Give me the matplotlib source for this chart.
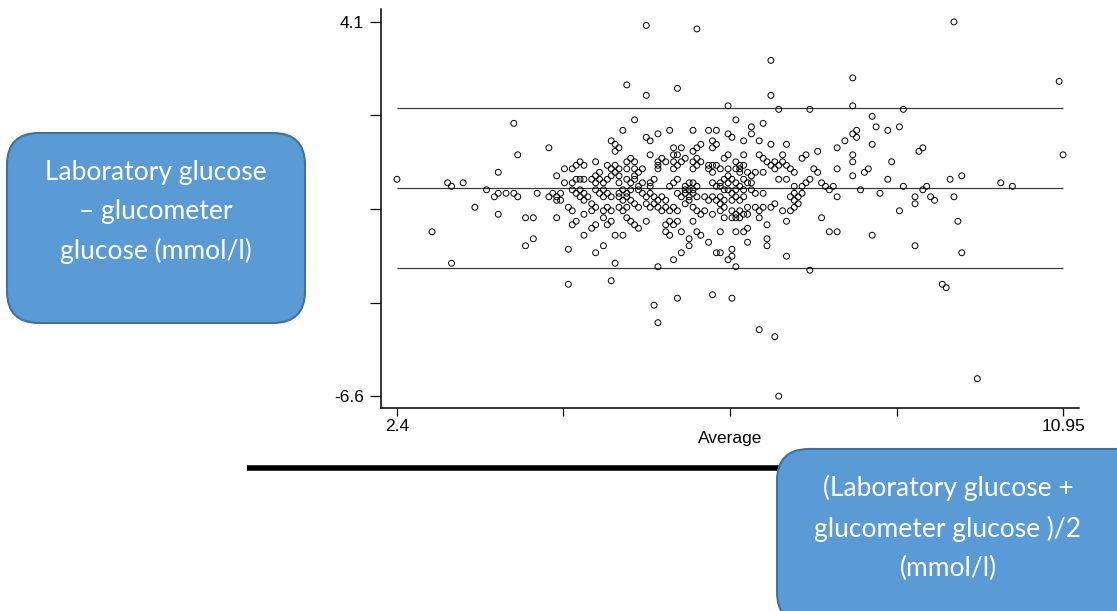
import numpy as np
import matplotlib.pyplot as plt
from matplotlib.patches import FancyBboxPatch

plt.rcParams['font.family'] = ['Liberation Sans', 'DejaVu Sans']

# Bland-Altman points: (average, laboratory - glucometer), mmol/l
upper_points = [
    (5.6, 4.0), (6.25, 3.9), (7.2, 3.0), (5.35, 2.3), (6.0, 2.2), (5.6, 2.0),
    (7.2, 2.0), (6.65, 1.7), (7.3, 1.6), (9.55, 4.1), (8.25, 2.5), (10.9, 2.4),
    (8.25, 1.7), (7.7, 1.6), (8.9, 1.6),
]

left_points = [
    (3.9, 1.2), (2.4, -0.4), (3.05, -0.5), (3.1, -0.6), (3.25, -0.5), (3.7, -0.2),
    (3.95, 0.3), (3.55, -0.7), (3.65, -0.9), (3.7, -0.8), (3.8, -0.8), (3.9, -0.8),
    (3.95, -0.9), (4.2, -0.8), (3.4, -1.2), (3.7, -1.4), (4.05, -1.5), (4.15, -1.5),
    (2.85, -1.9), (4.15, -2.1), (4.05, -2.3), (3.1, -2.8),
]

right_points = [
    (8.85, 1.1), (9.1, 0.4), (9.15, 0.5), (9.5, -0.4), (9.65, -0.3), (10.15, -0.5),
    (10.3, -0.6), (10.95, 0.3), (8.9, -0.6), (9.15, -0.7), (9.2, -0.6), (9.05, -0.9),
    (9.05, -1.1), (9.25, -0.9), (9.3, -1.0), (9.55, -0.9), (8.85, -1.3), (9.6, -1.6),
    (9.05, -2.3), (9.65, -2.5), (9.4, -3.4), (9.45, -3.5), (9.85, -6.1),
]

lower_points = [
    (4.6, -3.4), (5.15, -3.3), (5.7, -4.0), (5.75, -4.5), (6.0, -3.8), (6.45, -3.7),
    (6.7, -3.8), (7.05, -4.7), (7.25, -4.9), (7.3, -6.6),
]

core_left = [
    (5.45, 1.3), (5.3, 1.0), (5.6, 0.8), (5.65, 0.7), (5.75, 0.9), (5.9, 1.0),
    (6.2, 1.0), (6.4, 1.0), (6.5, 1.0),
    (4.35, 0.5), (5.15, 0.7), (5.2, 0.6), (5.25, 0.5), (5.2, 0.4), (5.65, 0.3),
    (5.95, 0.5), (6.05, 0.5), (6.0, 0.3),
    (6.25, 0.5), (6.3, 0.6), (6.2, 0.4), (6.45, 0.7), (6.5, 0.6), (6.45, 0.5),
    (4.75, 0.1), (4.7, 0.0), (4.8, 0.0), (4.65, -0.1), (4.95, 0.1), (5.0, -0.2), (4.95, -0.3),
    (5.1, 0.0), (5.2, 0.0), (5.15, -0.1), (5.2, -0.2), (5.25, -0.1), (5.25, -0.3), (5.15, -0.3),
    (5.35, 0.1), (5.4, 0.2), (5.35, -0.1), (5.45, -0.1), (5.45, 0.1), (5.55, -0.1),
    (5.5, -0.2), (5.45, -0.3),
    (5.75, 0.1), (5.8, 0.2), (5.85, 0.1), (5.75, 0.0), (5.75, -0.1),
    (5.95, 0.3), (5.95, 0.1), (6.05, 0.1), (6.0, 0.0), (5.95, -0.1), (6.1, 0.2),
    (6.2, 0.1), (6.25, 0.2), (6.3, 0.1), (6.25, 0.0), (6.2, -0.1),
    (6.4, 0.0), (6.45, 0.0), (6.5, 0.0), (6.4, -0.1), (6.45, -0.2),
    (4.45, -0.3), (4.55, -0.1), (4.55, -0.5), (4.65, -0.5), (4.7, -0.4), (4.75, -0.4), (4.8, -0.4),
    (4.9, -0.4), (4.95, -0.5), (5.0, -0.4), (5.05, -0.5), (5.1, -0.4),
    (5.25, -0.5), (5.35, -0.4), (5.4, -0.5), (5.45, -0.4), (5.5, -0.6), (5.55, -0.5),
    (5.65, -0.5), (5.7, -0.4), (5.65, -0.6),
    (5.9, -0.6), (5.95, -0.5), (6.0, -0.4), (6.1, -0.6), (6.15, -0.5), (6.2, -0.5),
    (6.15, -0.7), (6.1, -0.7), (6.2, -0.7), (6.25, -0.6),
    (6.45, -0.5), (6.5, -0.6),
    (4.35, -0.9), (4.4, -0.8), (4.45, -0.9), (4.5, -0.8), (4.45, -1.0), (4.5, -1.0),
    (4.65, -0.7), (4.7, -0.8), (4.75, -0.7), (4.8, -0.8), (4.75, -0.9), (4.85, -0.9), (4.8, -1.0),
    (4.95, -0.7), (5.0, -0.8), (5.05, -0.7), (5.05, -0.9), (5.1, -0.8), (5.15, -0.9),
    (5.25, -0.8), (5.3, -0.7), (5.35, -0.8), (5.4, -0.7), (5.25, -0.9), (5.35, -0.9),
    (5.3, -1.0), (5.4, -1.0),
    (5.5, -0.7), (5.55, -0.8), (5.6, -0.9), (5.65, -0.8), (5.7, -0.9), (5.75, -1.0),
    (5.8, -0.9), (5.85, -1.0),
    (6.0, -0.8), (6.05, -0.9), (6.1, -0.8), (6.15, -0.9), (6.2, -0.8), (6.15, -1.0), (6.25, -0.9),
    (6.35, -0.9), (6.4, -1.0), (6.45, -0.9), (6.5, -1.0),
    (4.6, -1.2), (4.65, -1.3), (4.9, -1.1), (4.95, -1.2), (4.9, -1.3),
    (5.05, -1.3), (5.1, -1.2), (5.15, -1.3), (5.25, -1.2), (5.3, -1.3), (5.35, -1.2),
    (5.45, -1.1), (5.5, -1.2), (5.6, -1.1), (5.65, -1.2), (5.7, -1.1), (5.75, -1.2),
    (5.8, -1.3), (5.85, -1.2), (5.9, -1.3), (5.95, -1.2), (6.0, -1.3),
    (6.1, -1.1), (6.2, -1.2), (6.25, -1.3), (6.3, -1.4), (6.35, -1.3), (6.45, -1.4),
    (4.45, -1.5), (4.7, -1.6), (4.65, -1.7), (4.8, -1.4),
    (4.95, -1.7), (4.9, -1.8), (5.05, -1.5), (5.1, -1.7), (5.15, -1.6),
    (5.35, -1.5), (5.4, -1.6), (5.45, -1.7), (5.5, -1.8), (5.6, -1.6),
    (5.9, -1.6), (5.95, -1.7), (5.85, -1.7), (6.0, -1.6), (6.2, -1.6),
    (5.85, -1.9), (5.9, -2.0), (6.05, -1.9), (6.25, -1.9), (6.3, -2.0),
    (4.8, -2.0), (5.2, -2.0), (5.3, -2.0), (6.15, -2.1),
    (4.6, -2.4), (4.95, -2.5), (5.05, -2.3), (5.2, -2.8), (5.75, -2.9), (5.95, -2.7),
    (6.05, -2.5), (6.15, -2.3), (6.4, -2.2), (6.5, -2.5),
]

core_right = [
    (6.75, 1.3), (6.95, 1.1), (7.1, 1.2), (6.65, 0.9), (6.7, 0.8), (6.95, 0.9),
    (6.85, 0.7), (7.05, 0.7), (7.2, 0.6), (7.4, 0.6),
    (8.5, 1.4), (8.55, 1.1), (8.7, 1.0), (8.25, 0.9), (8.3, 1.0), (8.3, 0.8),
    (8.15, 0.7), (8.5, 0.6), (8.05, 0.5),
    (7.8, 0.4), (7.65, 0.3), (7.6, 0.2), (8.25, 0.3), (8.25, 0.1), (8.75, 0.1),
    (7.35, 0.3), (7.05, 0.3), (7.1, 0.2), (6.85, 0.3), (6.65, 0.3), (6.6, 0.2),
    (7.15, 0.1), (7.25, 0.1), (7.35, 0.1), (7.2, 0.0), (7.3, 0.0), (7.4, 0.0),
    (7.25, -0.1), (7.45, -0.1), (7.5, -0.2),
    (7.1, -0.2), (7.0, -0.2), (6.9, -0.2), (6.95, -0.3), (6.8, -0.1), (6.75, -0.1), (6.8, -0.2),
    (6.55, -0.1), (6.65, -0.1), (6.85, 0.0), (6.75, 0.1), (6.8, 0.0),
    (7.3, -0.4), (7.4, -0.4), (7.75, -0.1), (7.8, -0.2), (8.05, -0.1), (8.25, -0.3),
    (8.4, -0.2), (8.45, -0.1), (8.7, -0.4),
    (7.7, -0.4), (7.65, -0.5), (7.6, -0.6), (7.5, -0.6), (7.85, -0.5), (7.9, -0.6),
    (7.95, -0.7), (8.0, -0.6), (8.35, -0.7), (8.6, -0.8),
    (6.65, -0.3), (6.7, -0.4), (6.6, -0.4), (6.55, -0.5), (6.65, -0.5), (6.75, -0.5),
    (6.85, -0.4), (6.9, -0.5), (6.95, -0.5), (6.8, -0.6), (6.55, -0.6), (6.6, -0.7),
    (6.65, -0.7), (6.75, -0.7), (6.85, -0.7), (6.95, -0.7), (7.0, -0.8), (7.1, -0.8),
    (6.7, -0.8), (6.55, -0.9), (6.6, -1.0), (6.7, -1.0), (6.75, -0.9), (6.8, -1.0),
    (6.85, -0.9), (6.55, -1.1), (6.6, -1.2), (6.7, -1.3), (6.75, -1.4), (6.8, -1.3),
    (6.9, -1.4), (6.55, -1.3), (6.6, -1.5), (6.7, -1.5), (6.75, -1.5), (6.8, -1.5), (6.85, -1.4),
    (7.45, -0.9), (7.5, -0.8), (7.55, -0.9), (7.5, -1.0), (7.55, -1.1), (7.5, -1.2),
    (7.6, -0.8), (7.45, -1.3), (7.35, -1.3), (7.25, -1.1), (7.2, -1.2), (7.1, -1.2),
    (7.0, -1.2), (7.05, -1.3), (7.05, -1.5), (6.9, -1.2), (7.15, -1.7), (7.15, -2.1), (7.15, -2.3),
    (7.4, -1.6), (7.85, -1.5), (8.05, -0.9), (7.95, -1.9), (8.05, -1.9), (8.5, -2.0),
    (6.55, -1.9), (6.75, -1.9), (6.85, -1.9), (6.9, -1.8), (6.9, -2.2), (6.55, -2.5),
    (6.7, -2.4), (6.7, -2.6), (6.65, -2.7), (6.75, -2.9), (7.4, -2.6), (7.7, -3.0),
]

# mean difference and 95% limits of agreement
mean_diff = -0.66
loa_upper = 1.63
loa_lower = -2.95

x_ticks = [2.4, 4.5375, 6.675, 8.8125, 10.95]
x_tick_labels = ['2.4', '', '', '', '10.95']
y_ticks = [-6.6, -3.925, -1.25, 1.425, 4.1]
y_tick_labels = ['-6.6', '', '', '', '4.1']

y_caption = 'Laboratory glucose\n\u2013 glucometer\nglucose (mmol/l)'
x_caption = '(Laboratory glucose +\nglucometer glucose )/2\n(mmol/l)'

fig = plt.figure(figsize=(11.17, 6.11), dpi=100)
ax = fig.add_axes([0.3411, 0.3322, 0.6249, 0.6531])

pts = np.array(upper_points + left_points + right_points + lower_points
               + core_left + core_right)
ax.scatter(pts[:, 0], pts[:, 1], s=18, facecolors='none', edgecolors='black',
           linewidths=0.7, zorder=3)
ax.hlines([loa_upper, mean_diff, loa_lower], x_ticks[0], x_ticks[-1],
          colors='#3a3a3a', linewidth=0.9, zorder=2)

ax.set_xlim(2.195, 11.155)
ax.set_ylim(-6.94, 4.47)
ax.set_xticks(x_ticks)
ax.set_xticklabels(x_tick_labels)
ax.set_yticks(y_ticks)
ax.set_yticklabels(y_tick_labels)
for side in ['top', 'right']:
    ax.spines[side].set_visible(False)
for side in ['left', 'bottom']:
    ax.spines[side].set_linewidth(1.1)
ax.tick_params(axis='y', length=8, width=0.9, pad=4, labelsize=12.5)
ax.tick_params(axis='x', length=6, width=0.9, pad=2, labelsize=12.5)
ax.set_xlabel('Average', fontsize=12.5)
ax.xaxis.set_label_coords(0.5, -0.058)

# callout boxes drawn on a pixel-sized overlay
deco = fig.add_axes([0, 0, 1, 1], zorder=5)
deco.set_xlim(0, 1117)
deco.set_ylim(611, 0)
deco.axis('off')

deco.plot([247, 790], [468, 468], color='black', lw=4, solid_capstyle='butt',
          zorder=0.5)

box_fc = '#5B9BD5'
box_ec = '#41719C'
deco.add_patch(FancyBboxPatch((7, 133), 298, 190,
                              boxstyle='round,pad=0,rounding_size=32',
                              fc=box_fc, ec=box_ec, lw=1.5, zorder=1))
deco.add_patch(FancyBboxPatch((777, 449), 370, 175,
                              boxstyle='round,pad=0,rounding_size=32',
                              fc=box_fc, ec=box_ec, lw=1.5, zorder=1))

deco.text(156, 212, y_caption, ha='center', va='center', color='white',
          family=['Lato', 'DejaVu Sans'], fontsize=19, linespacing=1.7, zorder=2)
deco.text(948, 528, x_caption, ha='center', va='center', color='white',
          family=['Lato', 'DejaVu Sans'], fontsize=19, linespacing=1.7, zorder=2)

fig.savefig('out.png', dpi=100)
